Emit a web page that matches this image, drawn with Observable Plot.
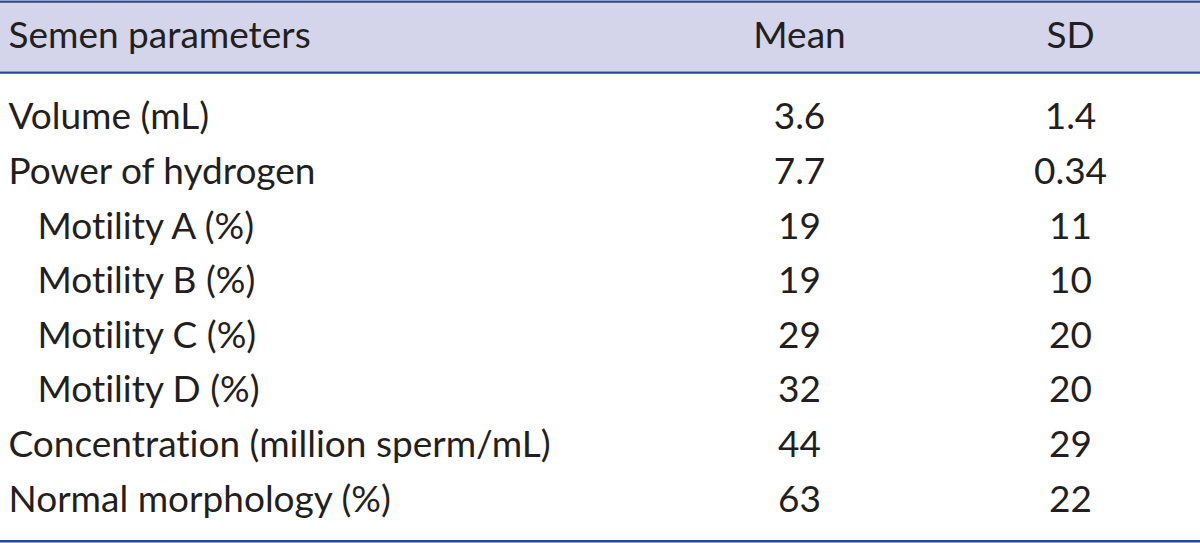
<!DOCTYPE html>
<html><head><meta charset="utf-8">
<script src="https://cdn.jsdelivr.net/npm/d3@7"></script>
<script src="https://cdn.jsdelivr.net/npm/@observablehq/plot@0.6"></script>
<style>body{margin:0;background:#fff} svg{display:block} svg text{font-variant-ligatures:none;font-feature-settings:"liga" 0}</style>
</head><body><div id="chart"></div>
<script>
// ---- data ----
const headers = ["Semen parameters", "Mean", "SD"];
const params = ["Volume (mL)", "Power of hydrogen", "Motility A (%)", "Motility B (%)", "Motility C (%)", "Motility D (%)", "Concentration (million sperm/mL)", "Normal morphology (%)"];
const levels = [0, 0, 1, 1, 1, 1, 0, 0];
const means = ["3.6", "7.7", "19", "19", "29", "32", "44", "63"];
const sds = ["1.4", "0.34", "11", "10", "20", "20", "29", "22"];

// ---- table build ----
const labelCells = params.map((p, i) => ({col: 0, row: i, text: p, level: levels[i]}));
const numCells = params.flatMap((p, i) => [
  {col: 1, row: i, text: means[i]},
  {col: 2, row: i, text: sds[i]}
]);
const HEADER_ROW = -1.48;
const headerCells = headers.map((h, i) => ({col: i, row: HEADER_ROW, text: h}));

const ink = "#231f20";
const navy = "#27498f";
const band = "#d4d5ea";
const FS = 37;

const chart = Plot.plot({
  width: 1200,
  height: 543,
  margin: 0,
  style: {fontFamily: "Lato, 'Open Sans', sans-serif", background: "#fff"},
  x: {type: "linear", domain: [0, 1, 2], range: [8, 799, 1070], axis: null},
  y: {type: "linear", domain: [-2.14, 7.8], range: [0, 543], axis: null},
  marks: [
    Plot.rect([0], {y1: -2.1, y2: -0.83, fill: band}),
    Plot.ruleY([-2.12, -0.82], {stroke: navy, strokeWidth: 2.2}),
    Plot.ruleY([7.76], {stroke: navy, strokeWidth: 2.6}),
    Plot.text(headerCells.filter(d => d.col === 0), {x: "col", y: "row", text: "text", textAnchor: "start", fontSize: FS, fill: ink}),
    Plot.text(headerCells.filter(d => d.col > 0), {x: "col", y: "row", text: "text", textAnchor: "middle", fontSize: FS, fill: ink}),
    Plot.text(labelCells.filter(d => d.level === 0), {x: "col", y: "row", text: "text", textAnchor: "start", fontSize: FS, fill: ink}),
    Plot.text(labelCells.filter(d => d.level === 1), {x: "col", y: "row", text: "text", textAnchor: "start", dx: 29, fontSize: FS, fill: ink}),
    Plot.text(numCells, {x: "col", y: "row", text: "text", textAnchor: "middle", fontSize: FS, fill: ink})
  ]
});
document.getElementById("chart").append(chart);
</script>
</body></html>
